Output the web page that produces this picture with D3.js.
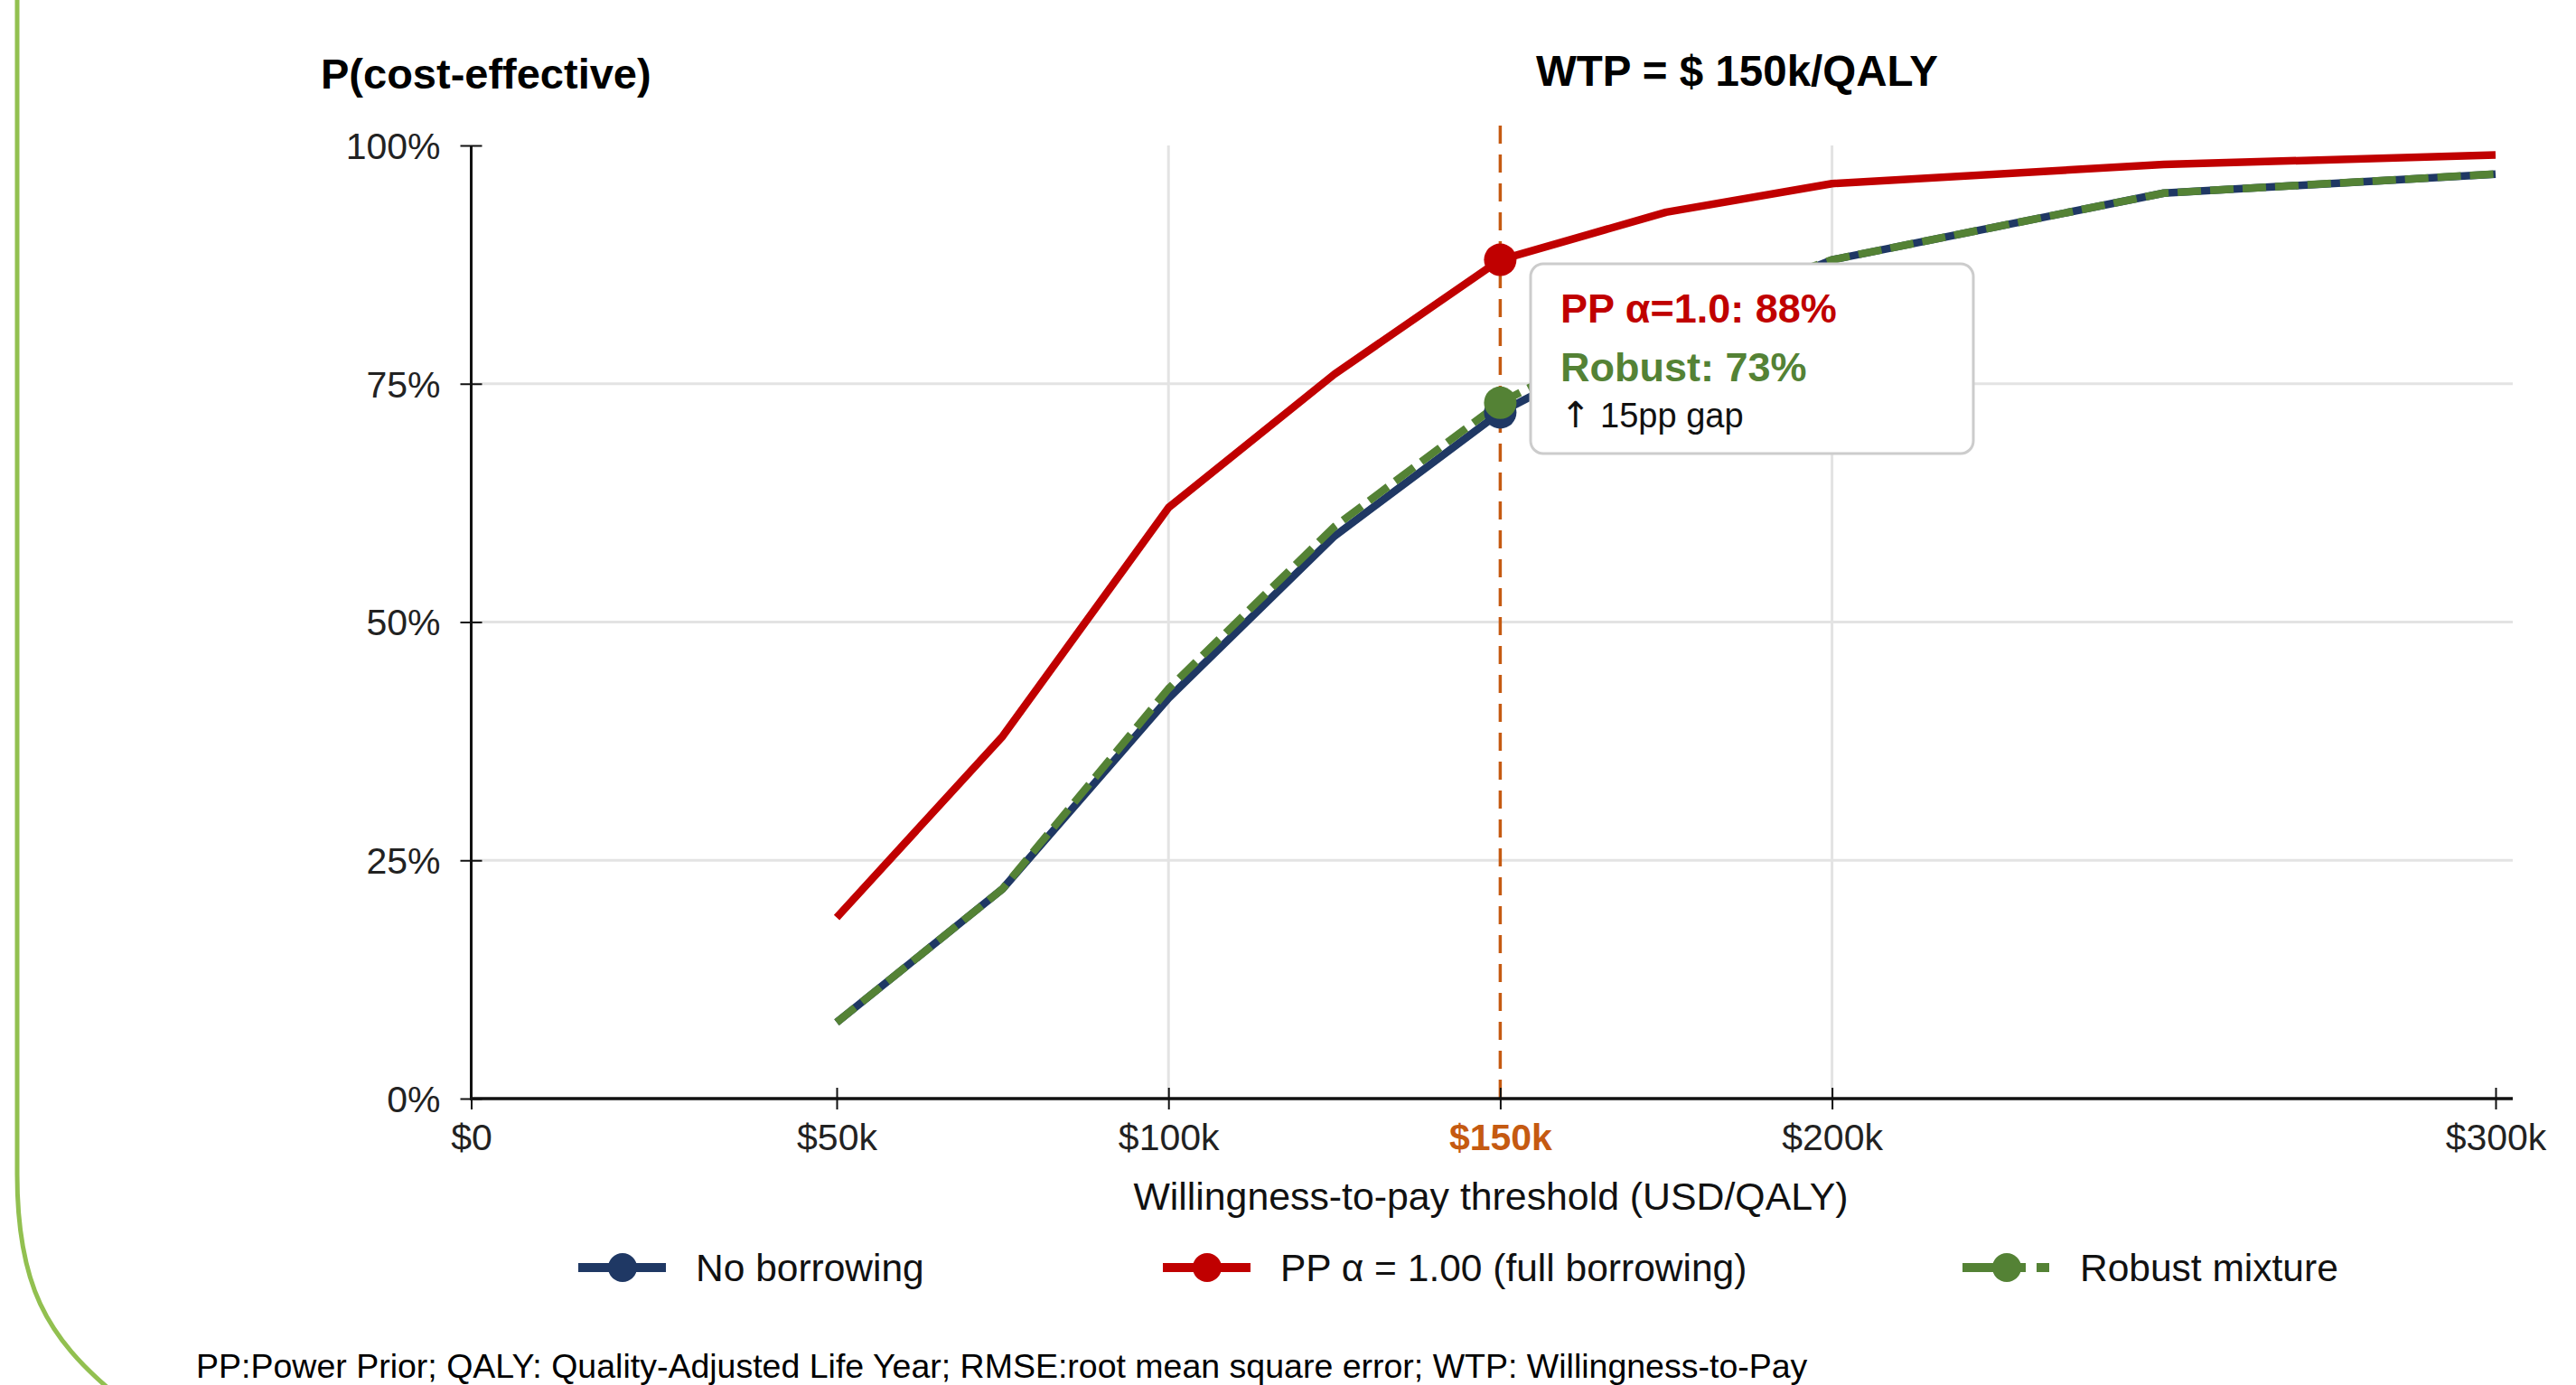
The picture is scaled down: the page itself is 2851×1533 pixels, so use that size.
<!DOCTYPE html>
<html>
<head>
<meta charset="utf-8">
<script src="https://cdn.jsdelivr.net/npm/d3@7"></script>
<style>
  html, body { margin: 0; padding: 0; background: #ffffff; }
  svg { display: block; }
  text { font-family: "Liberation Sans", Arial, Helvetica, sans-serif; }
</style>
</head>
<body>
<svg id="chart" width="2851" height="1533"></svg>
<script>
// ---------------- data ----------------
const wtp = [50000, 75000, 100000, 125000, 150000, 175000, 200000, 250000, 300000];
const noBorrowing = [8, 22, 42, 59, 72, 81, 88, 95, 97];
const ppFull      = [19, 38, 62, 76, 88, 93, 96, 98, 99];
const robust      = [8, 22, 43, 60, 73, 82, 88, 95, 97];

const xTickValues = [0, 50000, 100000, 150000, 200000, 300000];
const xTickLabels = ["$0", "$50k", "$100k", "$150k", "$200k", "$300k"];
const yTickValues = [0, 25, 50, 75, 100];
const yTickLabels = ["0%", "25%", "50%", "75%", "100%"];
const xGrid = [100000, 200000];
const yGrid = [25, 50, 75];
const wtpThreshold = 150000;

const seriesNames = ["No borrowing", "PP α = 1.00 (full borrowing)", "Robust mixture"];
const colors = { blue: "#1F3864", red: "#C00000", green: "#548235", orange: "#C55A11" };

// ---------------- layout ----------------
const svg = d3.select("#chart");
const x = d3.scaleLinear().domain([0, 50000, 300000]).range([521.5, 926, 2762]);
const y = d3.scaleLinear().domain([0, 100]).range([1216, 161]);
const plotRight = 2781;

// decorative green frame curve on the left
svg.append("path")
  .attr("d", "M19,-5 L19,1300 C19,1420 50,1480 130,1545")
  .attr("fill", "none").attr("stroke", "#92C050").attr("stroke-width", 5);

// gridlines
svg.append("g").selectAll("line").data(yGrid).join("line")
  .attr("x1", x(0)).attr("x2", plotRight)
  .attr("y1", d => y(d)).attr("y2", d => y(d))
  .attr("stroke", "#e3e3e3").attr("stroke-width", 3);
svg.append("g").selectAll("line").data(xGrid).join("line")
  .attr("x1", d => x(d)).attr("x2", d => x(d))
  .attr("y1", y(100)).attr("y2", y(0))
  .attr("stroke", "#e3e3e3").attr("stroke-width", 3);

// WTP threshold dashed line
svg.append("line")
  .attr("x1", x(wtpThreshold)).attr("x2", x(wtpThreshold))
  .attr("y1", 139).attr("y2", y(0))
  .attr("stroke", colors.orange).attr("stroke-width", 3.5)
  .attr("stroke-dasharray", "20,12");

// lines
const line = d3.line().x((d, i) => x(wtp[i])).y(d => y(d));
svg.append("path").datum(noBorrowing).attr("d", line)
  .attr("fill", "none").attr("stroke", colors.blue).attr("stroke-width", 8.5)
  .attr("stroke-linejoin", "round");
svg.append("path").datum(robust).attr("d", line)
  .attr("fill", "none").attr("stroke", colors.green).attr("stroke-width", 8.5)
  .attr("stroke-dasharray", "26,10").attr("stroke-linejoin", "round");
svg.append("path").datum(ppFull).attr("d", line)
  .attr("fill", "none").attr("stroke", colors.red).attr("stroke-width", 8.5)
  .attr("stroke-linejoin", "round");

// markers at threshold
const iw = wtp.indexOf(wtpThreshold);
[[noBorrowing, colors.blue], [robust, colors.green], [ppFull, colors.red]].forEach(([s, c]) => {
  svg.append("circle").attr("cx", x(wtp[iw])).attr("cy", y(s[iw])).attr("r", 18).attr("fill", c);
});

// tooltip box
const tip = svg.append("g");
tip.append("rect").attr("x", 1694).attr("y", 292).attr("width", 490).attr("height", 210)
  .attr("rx", 14).attr("fill", "#ffffff").attr("stroke", "#cccccc").attr("stroke-width", 3);
tip.append("text").attr("x", 1727).attr("y", 357)
  .attr("font-size", 45).attr("font-weight", "bold").attr("fill", colors.red)
  .text(`PP α=1.0: ${ppFull[iw]}%`);
tip.append("text").attr("x", 1727).attr("y", 422)
  .attr("font-size", 45).attr("font-weight", "bold").attr("fill", colors.green)
  .text(`Robust: ${robust[iw]}%`);
const gapText = tip.append("text").attr("x", 1727).attr("y", 473)
  .attr("font-size", 38).attr("fill", "#111");
gapText.append("tspan").attr("font-family", "DejaVu Sans, sans-serif").attr("font-size", 40).text("↑");
gapText.append("tspan").text(` ${ppFull[iw] - robust[iw]}pp gap`);

// axes lines
svg.append("line").attr("x1", x(0)).attr("x2", x(0)).attr("y1", y(100)).attr("y2", y(0) + 1.5)
  .attr("stroke", "#111").attr("stroke-width", 3);
svg.append("line").attr("x1", x(0) - 1.5).attr("x2", plotRight).attr("y1", y(0)).attr("y2", y(0))
  .attr("stroke", "#111").attr("stroke-width", 3.5);

// x axis ticks + labels
const xAxis = d3.axisBottom(x).tickValues(xTickValues).tickSizeInner(12).tickSizeOuter(0)
  .tickFormat((d, i) => xTickLabels[i]);
const gx = svg.append("g").attr("transform", `translate(0,${y(0)})`).call(xAxis);
gx.select(".domain").remove();
gx.selectAll(".tick line").attr("y1", -12).attr("y2", 12).attr("stroke", "#111").attr("stroke-width", 2);
gx.selectAll(".tick text").attr("y", 57).attr("dy", null)
  .attr("font-size", 41).attr("font-family", "Liberation Sans, Arial, sans-serif")
  .attr("fill", d => d === wtpThreshold ? colors.orange : "#222")
  .attr("font-weight", d => d === wtpThreshold ? "bold" : "normal");

// y axis ticks + labels
const yAxis = d3.axisLeft(y).tickValues(yTickValues).tickSizeInner(12).tickSizeOuter(0)
  .tickFormat((d, i) => yTickLabels[i]);
const gy = svg.append("g").attr("transform", `translate(${x(0)},0)`).call(yAxis);
gy.select(".domain").remove();
gy.selectAll(".tick line").attr("x1", -12).attr("x2", 12).attr("stroke", "#111").attr("stroke-width", 2);
gy.selectAll(".tick text").attr("x", -34).attr("dy", "0.35em")
  .attr("font-size", 41).attr("font-family", "Liberation Sans, Arial, sans-serif").attr("fill", "#222");

// titles
svg.append("text").attr("x", 355).attr("y", 98).attr("font-size", 47).attr("font-weight", "bold")
  .attr("fill", "#000").text("P(cost-effective)");
svg.append("text").attr("x", 1700).attr("y", 95).attr("font-size", 47.5).attr("font-weight", "bold")
  .attr("fill", "#000").text("WTP = $ 150k/QALY");
svg.append("text").attr("x", 1650).attr("y", 1339).attr("text-anchor", "middle")
  .attr("font-size", 42.8).attr("fill", "#111").text("Willingness-to-pay threshold (USD/QALY)");

// legend
const legendItems = [
  { name: seriesNames[0], color: colors.blue, dash: null, x0: 640 },
  { name: seriesNames[1], color: colors.red, dash: null, x0: 1287 },
  { name: seriesNames[2], color: colors.green, dash: "70,12,14,100", x0: 2172 }
];
const lg = svg.append("g").selectAll("g").data(legendItems).join("g")
  .attr("transform", d => `translate(${d.x0},1403)`);
lg.append("line").attr("x1", 0).attr("x2", 97).attr("y1", 0).attr("y2", 0)
  .attr("stroke", d => d.color).attr("stroke-width", 10)
  .attr("stroke-dasharray", d => d.dash);
lg.append("circle").attr("cx", 49).attr("cy", 0).attr("r", 16).attr("fill", d => d.color);
lg.append("text").attr("x", 130).attr("y", 15).attr("font-size", 42.5).attr("fill", "#111")
  .text(d => d.name);

// footnote
svg.append("text").attr("x", 217).attr("y", 1525).attr("font-size", 37.5).attr("fill", "#000")
  .text("PP:Power Prior; QALY: Quality-Adjusted Life Year; RMSE:root mean square error; WTP: Willingness-to-Pay");
</script>
</body>
</html>
